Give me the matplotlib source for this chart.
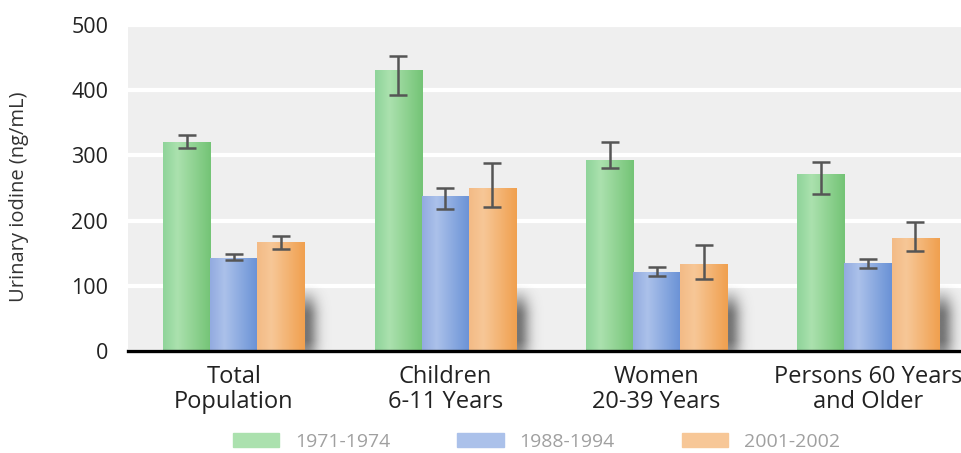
import numpy as np
import matplotlib.pyplot as plt
from matplotlib.colors import LinearSegmentedColormap

plt.rcParams['font.family'] = ['Open Sans', 'DejaVu Sans']

# ---------------- data ----------------
groups = ["Total\nPopulation", "Children\n6-11 Years", "Women\n20-39 Years", "Persons 60 Years\nand Older"]
periods = ["1971-1974", "1988-1994", "2001-2002"]

median_7174 = [320, 430, 292, 270]
median_8894 = [142, 237, 120, 134]
median_0102 = [166, 249, 133, 172]

low_7174 = [311, 392, 280, 241]
high_7174 = [331, 452, 321, 290]
low_8894 = [139, 218, 115, 128]
high_8894 = [149, 250, 129, 141]
low_0102 = [156, 221, 110, 153]
high_0102 = [176, 289, 162, 198]

series = [
    (median_7174, low_7174, high_7174),
    (median_8894, low_8894, high_8894),
    (median_0102, low_0102, high_0102),
]

# left edge, light stripe, right edge of each bar's shading
shades = [
    ["#8fd49a", "#abe1ae", "#74c476"],
    ["#93abe0", "#abc1ea", "#6a92d6"],
    ["#f3bb86", "#f7c797", "#f0a04f"],
]

fig = plt.figure(figsize=(9.61, 4.53), dpi=100)
ax = fig.add_axes([0.133, 0.225, 0.867, 0.72])

x = np.arange(len(groups))
w = 0.2225

ax.set_facecolor("#efefef")

for k, (vals, lo, hi) in enumerate(series):
    pos = x + (k - 1) * w
    bars = ax.bar(pos, vals, width=w, color=shades[k][2], zorder=2)
    cmap = LinearSegmentedColormap.from_list("bar%d" % k,
                                             [(0, shades[k][0]), (0.3, shades[k][1]), (1, shades[k][2])])
    grad = np.linspace(0, 1, 64).reshape(1, -1)
    for b in bars:
        ax.imshow(grad, cmap=cmap, aspect="auto", zorder=2.1, interpolation="bilinear",
                  extent=[b.get_x(), b.get_x() + b.get_width(), 0, b.get_height()])
    yerr = [np.array(vals) - np.array(lo), np.array(hi) - np.array(vals)]
    ax.errorbar(pos, vals, yerr=yerr, fmt="none", ecolor="#555555",
                elinewidth=1.8, capsize=6.5, capthick=1.8, zorder=3)

# soft shadow to the right of each group
sw, sh = 0.16, 105
ny, nx = 200, 120
yy = np.linspace(1, 0, ny).reshape(-1, 1)
xx = np.linspace(0, 1, nx).reshape(1, -1)
t = np.clip((1 - yy) / 0.5, 0, 1)
vert = t * t * (3 - 2 * t) * (0.75 + 0.25 * np.clip(yy / 0.15, 0, 1))
horiz = np.exp(-((xx - 0.06) / 0.34) ** 2)
shadow = np.zeros((ny, nx, 4))
shadow[..., :3] = 0.2
shadow[..., 3] = 0.65 * vert * horiz
for i in x:
    x0 = i + 1.5 * w
    ax.imshow(shadow, aspect="auto", zorder=1.5, interpolation="bilinear",
              extent=[x0, x0 + sw, 0, sh])

ax.set_xlim(-0.502, 3.44)
ax.set_ylim(0, 500)
ax.set_yticks([0, 100, 200, 300, 400, 500])
ax.yaxis.grid(True, color="white", linewidth=3)
ax.set_axisbelow(True)

for s in ["top", "right", "left"]:
    ax.spines[s].set_visible(False)
ax.spines["bottom"].set_linewidth(2.4)
ax.spines["bottom"].set_color("black")
ax.spines["bottom"].set_zorder(4)

ax.set_xticks(x)
ax.set_xticklabels(groups, fontsize=17, color="#222222", linespacing=1.05)
ax.tick_params(axis="both", length=0)
ax.tick_params(axis="x", pad=10)
ax.tick_params(axis="y", labelsize=15.5, labelcolor="#222222", pad=14)
ax.set_ylabel("Urinary iodine (ng/mL)", fontsize=14.5, color="#333333")
ax.yaxis.set_label_coords(-0.118, 0.474)

handles = [plt.Rectangle((0, 0), 1, 1, color=shades[k][1]) for k in range(3)]
leg = fig.legend(handles, periods, loc="center", bbox_to_anchor=(0.558, 0.025), ncol=3,
                 frameon=False, fontsize=14, handlelength=2.4, handleheight=0.8,
                 handletextpad=0.8, columnspacing=3.45)
for t in leg.get_texts():
    t.set_color("#a0a0a0")

fig.savefig("out.png", dpi=100)
